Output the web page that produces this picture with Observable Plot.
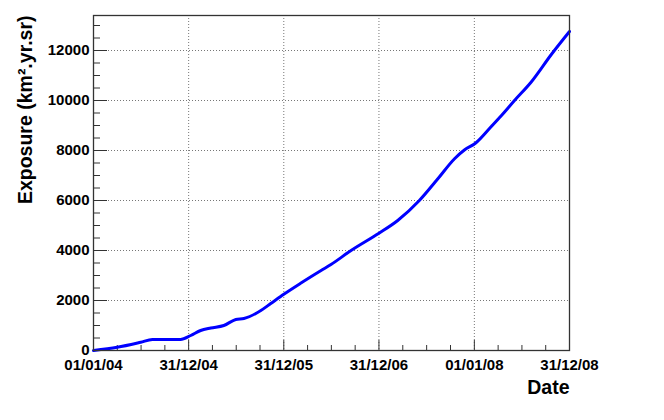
<!DOCTYPE html>
<html><head><meta charset="utf-8">
<script src="https://cdn.jsdelivr.net/npm/d3@7"></script>
<script src="https://cdn.jsdelivr.net/npm/@observablehq/plot@0.6"></script>
<style>body{margin:0;background:#fff;}</style>
</head><body><div id="chart"></div>
<script>
const dates = ["2004-01-01","2004-04-01","2004-06-30","2004-08-14","2004-11-30","2005-01-08","2005-02-15","2005-03-26","2005-05-15","2005-06-30","2005-07-31","2005-10-04","2005-11-11","2005-12-31","2006-03-07","2006-05-23","2006-06-30","2006-09-15","2006-12-31","2007-03-13","2007-06-04","2007-08-14","2007-10-17","2007-11-25","2008-01-05","2008-03-06","2008-04-14","2008-06-03","2008-08-07","2008-10-23","2008-12-31"];
const exposure = [0,130,330,440,440,600,800,900,1000,1240,1280,1600,1880,2250,2700,3200,3440,4000,4690,5200,6000,6870,7670,8030,8290,8960,9400,10000,10750,11850,12760];
const xTickDates = ["2004-01-01","2004-12-31","2005-12-31","2006-12-31","2008-01-01","2008-12-31"];
const xTickLabels = ["01/01/04","31/12/04","31/12/05","31/12/06","01/01/08","31/12/08"];
const yTicks = [0,2000,4000,6000,8000,10000,12000];
const yMax = 13400;

const data = dates.map((d,i)=>({date:new Date(d), value:exposure[i]}));
const xMajor = xTickDates.map(d=>new Date(d));
const xMinor = [];
for (let i=0;i<xMajor.length-1;i++){
  const a=+xMajor[i], b=+xMajor[i+1];
  for (let k=1;k<4;k++) xMinor.push(new Date(a+(b-a)*k/4));
}
const yMinor = d3.range(0, yMax+1, 500).filter(v=>v%2000!==0);
const W=664,H=420,mL=93,mR=95,mT=15,mB=70;
const innerW=W-mL-mR, innerH=H-mT-mB;
const font="'Liberation Sans', Arial, Helvetica, sans-serif";
const labelOf=new Map(xMajor.map((d,i)=>[+d,xTickLabels[i]]));
const gridStyle={stroke:"#777",strokeOpacity:1,strokeDasharray:"1,2",strokeWidth:1};

const chart = Plot.plot({
  width:W,height:H,marginLeft:mL,marginRight:mR,marginTop:mT,marginBottom:mB,
  style:{fontFamily:font,background:"white",color:"black"},
  x:{type:"utc",domain:[xMajor[0],xMajor[xMajor.length-1]]},
  y:{domain:[0,yMax]},
  marks:[
    Plot.gridX(xMajor.slice(1,-1),gridStyle),
    Plot.gridY(yTicks.slice(1),gridStyle),
    Plot.ruleX(xMajor,{x:d=>d,insetTop:innerH-10,stroke:"#333"}),
    Plot.ruleX(xMinor,{x:d=>d,insetTop:innerH-5,stroke:"#333"}),
    Plot.ruleY(yTicks,{y:d=>d,insetRight:innerW-14,stroke:"#333"}),
    Plot.ruleY(yMinor,{y:d=>d,insetRight:innerW-7,stroke:"#333"}),
    Plot.line(data,{x:"date",y:"value",stroke:"#0000ff",strokeWidth:3,curve:"monotone-x"}),
    Plot.frame({stroke:"#333",strokeWidth:1.3}),
    Plot.axisX(xMajor,{tickSize:0,tickPadding:9,tickFormat:d=>labelOf.get(+d),fontSize:15,fontWeight:"bold",label:null,fill:"black"}),
    Plot.axisY(yTicks,{tickSize:0,tickPadding:4,tickFormat:d=>String(d),fontSize:15,fontWeight:"bold",label:null,fill:"black"}),
    Plot.text(["Exposure (km\u00b2.yr.sr)"],{text:d=>d,frameAnchor:"top-left",dx:-62,rotate:-90,textAnchor:"end",lineAnchor:"bottom",fontSize:19.5,fontWeight:"bold",fill:"black"}),
    Plot.text(["Date"],{text:d=>d,frameAnchor:"bottom-right",dy:43,textAnchor:"end",lineAnchor:"bottom",fontSize:19.5,fontWeight:"bold",fill:"black"})
  ]
});
document.getElementById("chart").appendChild(chart);
</script>
</body></html>
